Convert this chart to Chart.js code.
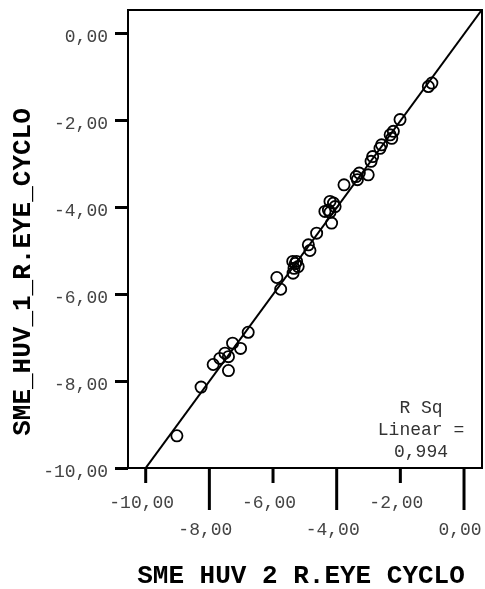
<!DOCTYPE html>
<html lang="en">
<head>
    <meta charset="UTF-8">
    <title>SME HUV 1 vs SME HUV 2</title>
    <style>
        body { margin: 0; background: #fff; }
        canvas { display: block; }
    </style>
    <script src="https://cdn.jsdelivr.net/npm/chart.js"></script>
</head>
<body>
    <canvas id="scatterChart" width="485" height="589"></canvas>

    <script>
        const huv2Values = [
            -9.02, -8.26, -7.88, -7.67, -7.51, -7.40, -7.40, -7.27, -7.02, -6.78,
            -5.88, -5.76, -5.38, -5.26, -5.34, -5.21, -5.37, -5.30,
            -4.89, -4.84, -4.63, -4.37, -4.21, -4.05, -4.26, -4.16, -4.10, -4.21,
            -3.77, -3.39, -3.29, -3.35, -3.01, -2.92, -2.87,
            -2.64, -2.59, -2.32, -2.22, -2.27, -2.01, -1.12, -1.01
        ];
        const huv1Values = [
            -9.26, -8.14, -7.62, -7.48, -7.36, -7.44, -7.76, -7.13, -7.25, -6.88,
            -5.62, -5.89, -5.25, -5.25, -5.41, -5.37, -5.52, -5.30,
            -4.87, -5.00, -4.60, -4.10, -3.87, -3.99, -4.07, -4.37, -3.91, -4.12,
            -3.49, -3.30, -3.22, -3.37, -3.26, -2.95, -2.84,
            -2.65, -2.57, -2.34, -2.26, -2.42, -1.99, -1.23, -1.15
        ];

        // Linear fit
        const fitIntercept = -0.025;
        const fitSlope = 0.9975;
        const rSquaredLines = ['R Sq', 'Linear =', '0,994'];

        // Axes
        const xMin = -10.556, xMax = 0.565;
        const yMin = -10, yMax = 0.53;
        const xTickValues = [-10, -8, -6, -4, -2, 0];
        const xTickLabels = ['-10,00', '-8,00', '-6,00', '-4,00', '-2,00', '0,00'];
        const yTickValues = [-10, -8, -6, -4, -2, 0];
        const yTickLabels = ['-10,00', '-8,00', '-6,00', '-4,00', '-2,00', '0,00'];
        const xTitle = 'SME HUV 2 R.EYE CYCLO';
        const yTitle = 'SME_HUV_1_R.EYE_CYCLO';

        const mono = 'Liberation Mono';
        const points = huv2Values.map((x, i) => ({ x: x, y: huv1Values[i] }));
        const fitLine = [xMin, xMax].map(x => ({ x: x, y: fitIntercept + fitSlope * x }));

        // no extra room for overhanging tick labels
        function noPadding(s) {
            s.paddingLeft = s.paddingRight = s.paddingTop = s.paddingBottom = 0;
        }

        // frame, alternating x tick marks, R sq note and axis titles
        const framePlugin = {
            id: 'frame',
            afterDraw(chart) {
                const { ctx, chartArea: a, scales } = chart;
                ctx.save();
                ctx.strokeStyle = '#000';
                ctx.lineWidth = 2;
                ctx.strokeRect(a.left, a.top, a.right - a.left, a.bottom - a.top);

                ctx.lineWidth = 3;
                xTickValues.forEach((v, i) => {
                    const px = scales.x.getPixelForValue(v);
                    ctx.beginPath();
                    ctx.moveTo(px, a.bottom);
                    ctx.lineTo(px, a.bottom + (i % 2 ? 42 : 15));
                    ctx.stroke();
                });

                ctx.textAlign = 'center';
                ctx.textBaseline = 'middle';
                ctx.fillStyle = '#333';
                ctx.font = '18px "' + mono + '"';
                rSquaredLines.forEach((t, i) => ctx.fillText(t, a.right - 61, a.bottom - 60 + i * 22));

                ctx.fillStyle = '#000';
                ctx.font = 'bold 26px "' + mono + '"';
                ctx.fillText(xTitle, 301, 576);
                ctx.translate(23, 272);
                ctx.rotate(-Math.PI / 2);
                ctx.fillText(yTitle, 0, 0);
                ctx.restore();
            }
        };

        const ctx = document.getElementById('scatterChart').getContext('2d');
        const chart = new Chart(ctx, {
            type: 'scatter',
            data: {
                datasets: [{
                    label: 'SME HUV 1',
                    data: points,
                    pointStyle: 'circle',
                    pointRadius: 5.6,
                    pointBorderWidth: 1.8,
                    borderColor: '#000',
                    backgroundColor: 'rgba(0,0,0,0)'
                }, {
                    label: 'Linear fit',
                    data: fitLine,
                    showLine: true,
                    pointRadius: 0,
                    borderColor: '#000',
                    borderWidth: 2
                }]
            },
            options: {
                responsive: false,
                animation: false,
                layout: { padding: { left: 0, right: 3, top: 10, bottom: 0 }, autoPadding: false },
                plugins: { legend: { display: false }, tooltip: { enabled: false } },
                scales: {
                    x: {
                        type: 'linear', min: xMin, max: xMax,
                        afterBuildTicks: s => { s.ticks = xTickValues.map(v => ({ value: v })); },
                        afterFit: s => { s.height = 121; noPadding(s); },
                        grid: { display: false, drawTicks: false },
                        border: { display: false },
                        ticks: {
                            padding: 22, labelOffset: -4, color: '#444', maxRotation: 0, autoSkip: false,
                            font: { family: mono, size: 18, lineHeight: 1.48 },
                            callback: v => {
                                const i = xTickValues.indexOf(v);
                                return i % 2 ? ['', xTickLabels[i]] : xTickLabels[i];
                            }
                        }
                    },
                    y: {
                        type: 'linear', min: yMin, max: yMax,
                        afterBuildTicks: s => { s.ticks = yTickValues.map(v => ({ value: v })); },
                        afterFit: s => { s.width = 128; noPadding(s); },
                        grid: { drawOnChartArea: false, tickLength: 13, tickWidth: 3, tickColor: '#000' },
                        border: { display: false },
                        ticks: {
                            padding: 7, labelOffset: 4, color: '#444', autoSkip: false,
                            font: { family: mono, size: 18 },
                            callback: v => yTickLabels[yTickValues.indexOf(v)]
                        }
                    }
                }
            },
            plugins: [framePlugin]
        });
    </script>
</body>
</html>
